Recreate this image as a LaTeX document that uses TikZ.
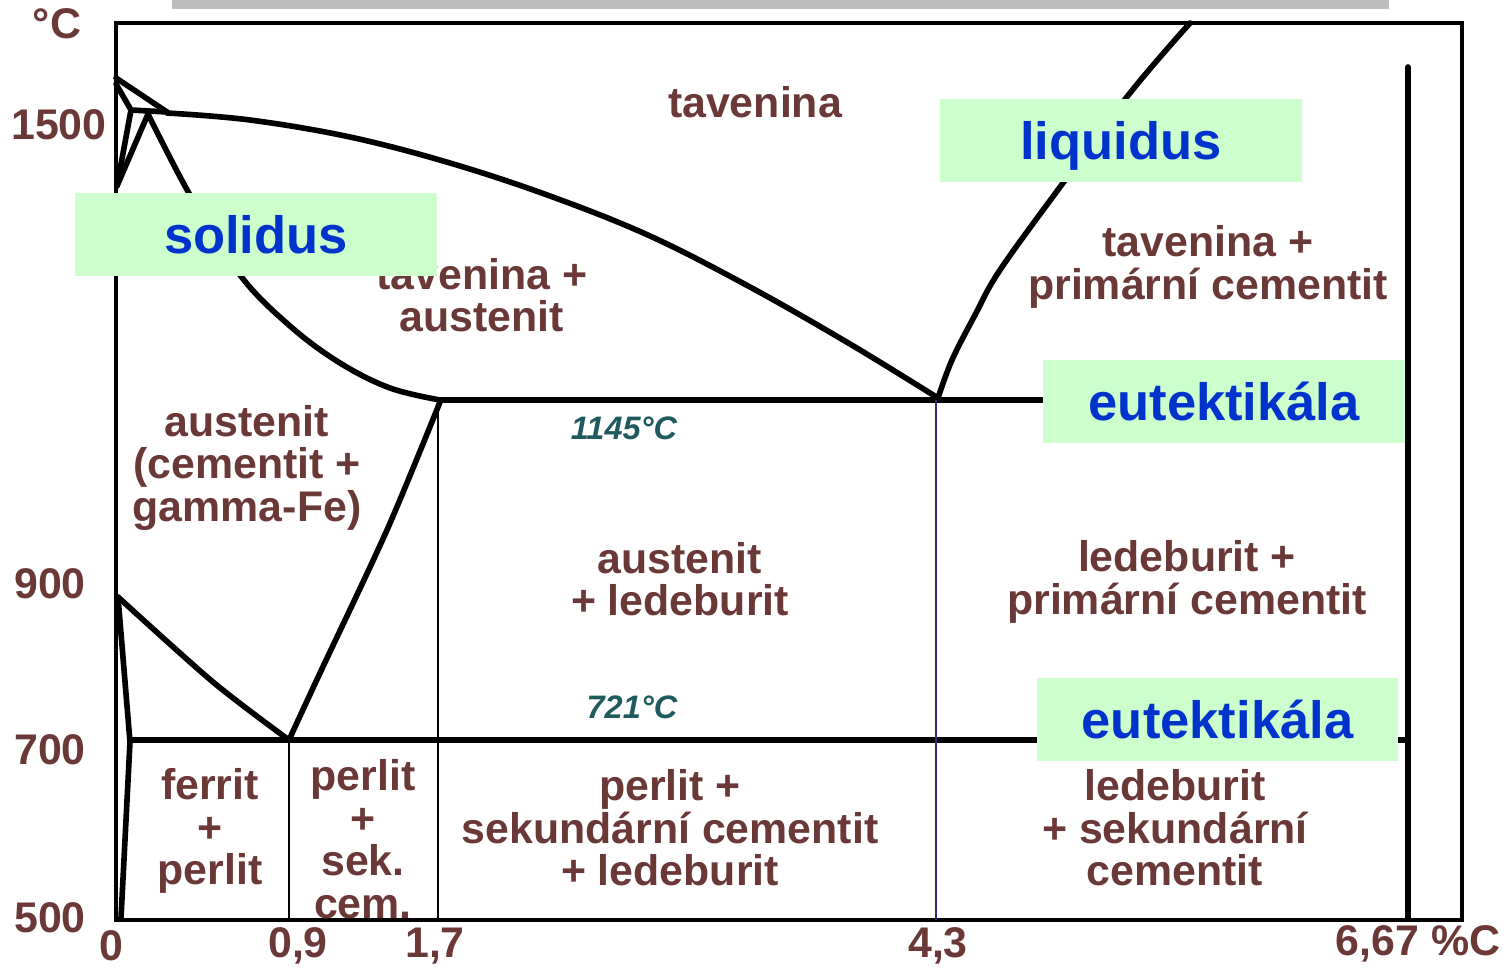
\documentclass[tikz,border=0pt]{standalone}
\usepackage{fontspec}
\setmainfont{Liberation Sans}
\definecolor{lab}{HTML}{6B3838}
\definecolor{templ}{HTML}{1F5A5E}
\definecolor{boxg}{HTML}{CCFFCC}
\definecolor{blu}{HTML}{0033CC}
\definecolor{purp}{HTML}{3C2A78}
\definecolor{barg}{HTML}{BEBEBE}
\tikzset{
  phase/.style={font=\bfseries\fontsize{24.4}{24.2}\selectfont, text=lab, align=center, inner sep=0pt},
  axlab/.style={font=\bfseries\fontsize{24.4}{24.2}\selectfont, text=lab, inner sep=0pt},
  templab/.style={font=\bfseries\itshape\fontsize{18.5}{20}\selectfont, text=templ, inner sep=0pt},
  callout/.style={fill=boxg, text=blu, font=\bfseries\fontsize{29.9}{30}\selectfont, minimum width=7.24cm, minimum height=1.66cm, inner sep=0pt, text height=25pt, text depth=3pt},
  phaseline/.style={line width=3.2pt, line join=round, line cap=round},
  frameline/.style={line width=1.8pt},
  thinline/.style={line width=1.1pt},
}
\begin{document}
\begin{tikzpicture}[x=0.02cm,y=-0.02cm]
\useasboundingbox (0,0) rectangle (1507,967);
% top gray bar
\fill[barg] (172,0) rectangle (1389,9);
% frame
\draw[frameline] (116,23) rectangle (1462,920);
% key points
\coordinate (peak) at (116,78);
\coordinate (peri) at (167,112);
\coordinate (E) at (440,400);
\coordinate (C) at (938,398);
\coordinate (S) at (289,740);
\coordinate (G) at (118,597);
% delta region
\draw[phaseline] (peak) -- (peri);
\draw[phaseline] (116,84) -- (131,110) -- (peri);
\draw[phaseline] (131,110) -- (117,186);
\draw[phaseline] (148,114) -- (117,186);
% liquidus left
\draw[phaseline] plot[smooth, tension=0.6] coordinates {(167,113) (250,120) (350,137) (450,163) (550,196) (650,236) (750,287) (850,344) (938,398)};
% solidus
\draw[phaseline] plot[smooth, tension=0.6] coordinates {(148,114) (190,195) (240,275) (290,326) (340,363) (390,388) (440,400)};
% liquidus right
\draw[phaseline] plot[smooth, tension=0.6] coordinates {(938,398) (952,360) (975,315) (1000,270) (1060,187) (1130,93) (1190,23)};
% Acm
\draw[phaseline] plot[smooth, tension=0.5] coordinates {(440,402) (387,530) (320,673) (289,740)};
% A3
\draw[phaseline] plot[smooth, tension=0.5] coordinates {(118,597) (213,682) (289,740)};
% alpha sliver
\draw[phaseline] (118,597) -- (130,742) -- (121,918);
% eutectic and eutectoid
\draw[phaseline] (E) -- (1408,400);
\draw[phaseline] (130,740) -- (1408,740);
% cementite
\draw[phaseline] (1408,67) -- (1408,918);
% vertical thin lines
\draw[thinline] (289,740) -- (289,920);
\draw[thinline] (438,400) -- (438,920);
\draw[thinline, purp] (936,400) -- (936,920);
% axis labels
\node[axlab] (degc) at (57,24) {°C};
\node[axlab] (t1500) at (59,125) {1500};
\node[axlab] (t900) at (50,584) {900};
\node[axlab] (t700) at (50,750) {700};
\node[axlab] (t500) at (50,918) {500};
\node[axlab] (x0) at (111,946) {0};
\node[axlab] (x09) at (298,946) {0,9};
\node[axlab] (x17) at (435,946) {1,7};
\node[axlab] (x43) at (938,946) {4,3};
\node[axlab] (x667) at (1418,944) {6,67 \%C};
% phase labels
\node[phase] (liq) at (755,102) {tavenina};
\node[phase] (liqaus) at (482,295) {tavenina +\\austenit};
\node[phase] (liqcem) at (1208,267) {tavenina +\\primární cementit};
\node[phase] (aus) at (247,468) {austenit\\(cementit +\\gamma-Fe)};
\node[phase] (ausled) at (680,579) {austenit\\+ ledeburit};
\node[phase] (ledcem) at (1187,582) {ledeburit +\\primární cementit};
\node[phase] (ferper) at (210,831) {ferrit\\+\\perlit};
\node[phase] (persek) at (363,839) {perlit\\+\\sek.\\cem.};
\node[phase] (persekled) at (670,828) {perlit +\\sekundární cementit\\+ ledeburit};
\node[phase] (ledsek) at (1175,828) {ledeburit\\+ sekundární\\cementit};
\node[templab] (t1145) at (624,428) {1145°C};
\node[templab] (t721) at (632,707) {721°C};
% callouts
\node[callout] (solidus) at (256,234.5) {solidus};
\node[callout] (liquidus) at (1121,140.5) {liquidus};
\node[callout] (eut1) at (1224,401.5) {eutektikála};
\node[callout] (eut2) at (1217.5,719.5) {eutektikála};
\end{tikzpicture}
\end{document}
